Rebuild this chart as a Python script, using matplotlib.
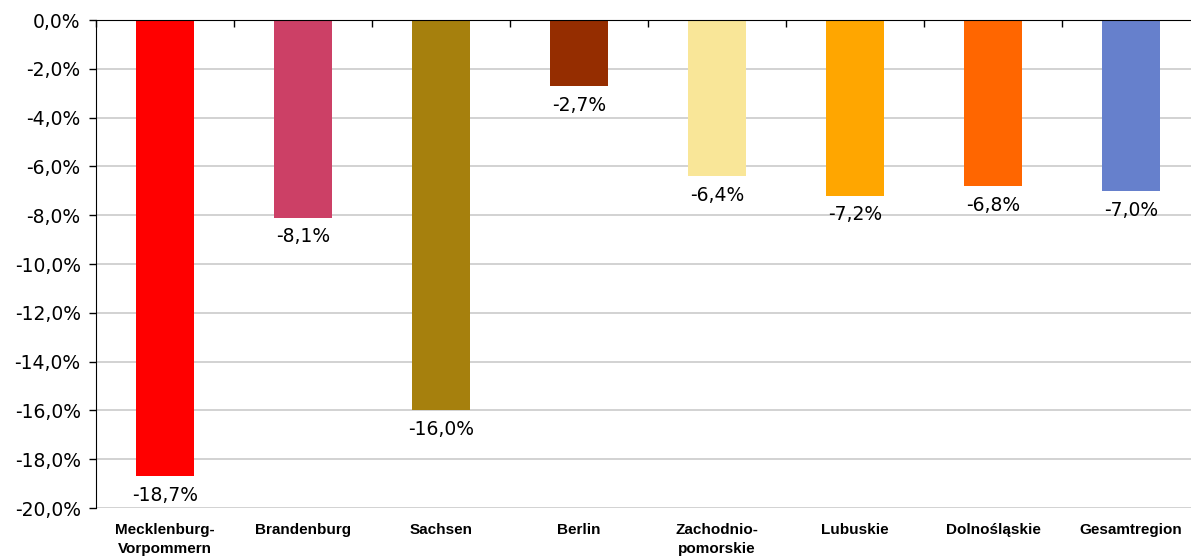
import matplotlib.pyplot as plt
import numpy as np
from matplotlib.ticker import FuncFormatter

regions = ["Mecklenburg-\nVorpommern", "Brandenburg", "Sachsen", "Berlin",
           "Zachodnio-\npomorskie", "Lubuskie", "Dolnośląskie", "Gesamtregion"]
change = np.array([-18.7, -8.1, -16.0, -2.7, -6.4, -7.2, -6.8, -7.0])
colors = ["#FF0000", "#CC4066", "#A6800D", "#952D00",
          "#F9E698", "#FFA600", "#FF6600", "#6680CC"]

fig = plt.figure(figsize=(11.91, 5.58), dpi=100)
ax = fig.add_axes([96 / 1191, 1 - 508 / 558, 1104 / 1191, 488 / 558])

x = np.arange(len(regions))
ax.bar(x, change, 0.42, color=colors, zorder=3)

for xi, v in zip(x, change):
    ax.annotate(f"{v:.1f}%".replace(".", ","), (xi, v), xytext=(0, -7),
                textcoords="offset points", ha="center", va="top", fontsize=13.5)

ax.set_xlim(-0.5, len(regions) - 0.5)
ax.set_ylim(-20, 0)
ax.set_yticks(np.arange(-20, 1, 2))
ax.yaxis.set_major_formatter(FuncFormatter(lambda v, p: f"{v:.1f}%".replace(".", ",")))
ax.tick_params(axis="y", labelsize=13.5, length=5, width=1, pad=6)
ax.grid(axis="y", color="#CFCFCF", lw=1.3, zorder=0)

ax.set_xticks(x)
ax.set_xticklabels(regions, fontfamily="Liberation Sans", fontweight="bold",
                   fontsize=11, linespacing=1.4)
ax.tick_params(axis="x", which="major", length=0, pad=11)
ax.set_xticks(np.arange(-0.5, len(regions), 1), minor=True)
ax.tick_params(axis="x", which="minor", top=True, bottom=False, direction="in", length=5, width=1)

for s in ["right", "bottom"]:
    ax.spines[s].set_visible(False)
ax.spines["top"].set_zorder(4)

fig.savefig("out.png", dpi=100)
